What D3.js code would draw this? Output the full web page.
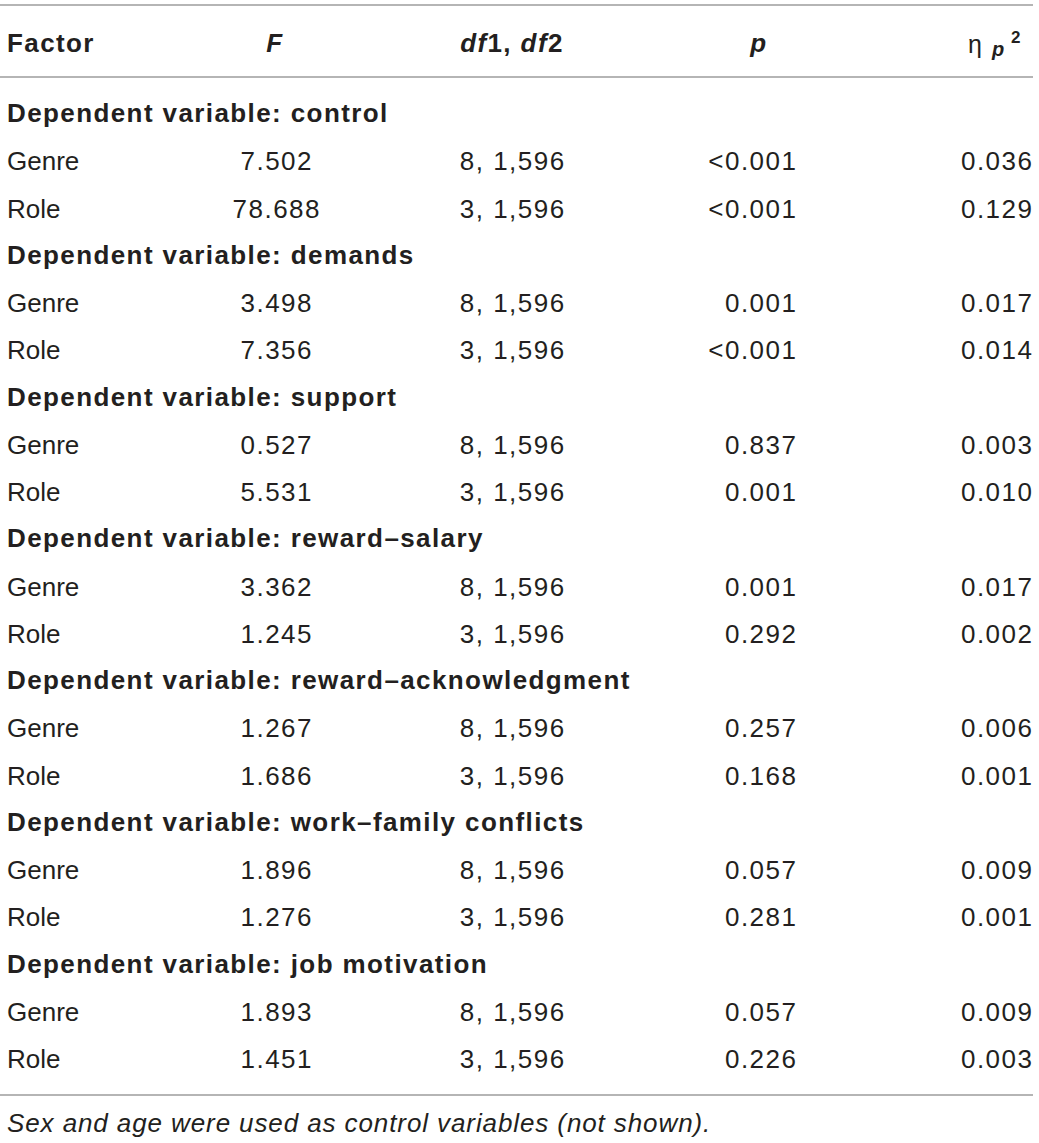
<!DOCTYPE html>
<html>
<head>
<meta charset="utf-8">
<script src="https://cdn.jsdelivr.net/npm/d3@7"></script>
<style>
  html, body { margin: 0; padding: 0; background: #fff; }
  svg { display: block; }
  text { font-family: "Liberation Sans", Arial, "Helvetica Neue", sans-serif; fill: #231f20; }
  .bold { font-weight: bold; letter-spacing: 1.4px; }
  .num { letter-spacing: 1.5px; }
</style>
</head>
<body>
<svg id="chart" width="1039" height="1143"></svg>
<script>
// ---- data ----
const sections = ["control", "demands", "support", "reward–salary", "reward–acknowledgment", "work–family conflicts", "job motivation"];
const factors = ["Genre", "Role"];
const df1Values = [8, 3];
const df2Value = 1596;
const fValues = [
  [7.502, 78.688],
  [3.498, 7.356],
  [0.527, 5.531],
  [3.362, 1.245],
  [1.267, 1.686],
  [1.896, 1.276],
  [1.893, 1.451]
];
const pValues = [
  ["<0.001", "<0.001"],
  ["0.001", "<0.001"],
  ["0.837", "0.001"],
  ["0.001", "0.292"],
  ["0.257", "0.168"],
  ["0.057", "0.281"],
  ["0.057", "0.226"]
];
const etaValues = [
  [0.036, 0.129],
  [0.017, 0.014],
  [0.003, 0.010],
  [0.017, 0.002],
  [0.006, 0.001],
  [0.009, 0.001],
  [0.009, 0.003]
];
const footnote = "Sex and age were used as control variables (not shown).";
const sectionPrefix = "Dependent variable: ";

// ---- build rows ----
const rows = [];
sections.forEach((s, si) => {
  rows.push({ type: "section", label: sectionPrefix + s });
  factors.forEach((f, fi) => {
    rows.push({
      type: "data", label: f,
      F: fValues[si][fi],
      df: [df1Values[fi], df2Value],
      p: pValues[si][fi],
      eta: etaValues[si][fi]
    });
  });
});

const svg = d3.select("#chart");
const fmt3 = d3.format(".3f");
const fmtComma = d3.format(",");

// column anchors
const colX = d3.scaleOrdinal()
  .domain(["label", "F", "df", "p", "eta"])
  .range([7, 276, 512, 796, 1032]);
const colAnchor = { label: "start", F: "middle", df: "middle", p: "end", eta: "end" };

// row baselines
const y = d3.scaleLinear().domain([0, rows.length - 1]).range([123, 1068]);

// rules
const rules = [5, 77, 1095];
svg.selectAll("line.rule").data(rules).join("line")
  .attr("class", "rule")
  .attr("x1", 0).attr("x2", 1033)
  .attr("y1", d => d).attr("y2", d => d)
  .attr("stroke", "#9d9d9d").attr("stroke-width", 1.6);

// header
const hy = 52;
const hdr = svg.append("g");
hdr.append("text").attr("class", "bold").attr("x", colX("label")).attr("y", hy)
  .attr("font-size", 26).text("Factor");
hdr.append("text").attr("class", "bold").attr("x", colX("F") - 1).attr("y", hy)
  .attr("font-size", 26).attr("text-anchor", "middle").attr("font-style", "italic").text("F");
const dfh = hdr.append("text").attr("class", "bold").attr("x", colX("df")).attr("y", hy)
  .attr("font-size", 26).attr("text-anchor", "middle");
dfh.append("tspan").attr("font-style", "italic").text("df");
dfh.append("tspan").text("1, ");
dfh.append("tspan").attr("font-style", "italic").text("df");
dfh.append("tspan").text("2");
hdr.append("text").attr("class", "bold").attr("x", 759).attr("y", hy)
  .attr("font-size", 26).attr("text-anchor", "middle").attr("font-style", "italic").text("p");
// eta_p^2
hdr.append("text").attr("x", 968).attr("y", 53).attr("font-size", 25).text("η");
hdr.append("text").attr("x", 992).attr("y", 56).attr("font-size", 20)
  .attr("font-weight", "bold").attr("font-style", "italic").text("p");
hdr.append("text").attr("x", 1011).attr("y", 43).attr("font-size", 17)
  .attr("font-weight", "bold").text("2");

// body rows
const g = svg.append("g");
rows.forEach((r, i) => {
  const yy = y(i);
  if (r.type === "section") {
    g.append("text").attr("class", "bold").attr("x", colX("label")).attr("y", yy - 1)
      .attr("font-size", 26).text(r.label);
  } else {
    g.append("text").attr("x", colX("label")).attr("y", yy).attr("font-size", 26).text(r.label);
    const cells = [
      ["F", fmt3(r.F)],
      ["df", r.df[0] + ", " + fmtComma(r.df[1])],
      ["p", r.p],
      ["eta", fmt3(r.eta)]
    ];
    cells.forEach(([k, v]) => {
      const anchor = colAnchor[k];
      const shift = anchor === "end" ? 1.5 : (anchor === "middle" ? 0.75 : 0);
      g.append("text").attr("class", "num")
        .attr("x", colX(k) + shift).attr("y", yy)
        .attr("font-size", 26).attr("text-anchor", anchor).text(v);
    });
  }
});

// footnote
svg.append("text").attr("x", 7).attr("y", 1132).attr("font-size", 26)
  .attr("font-style", "italic").attr("letter-spacing", "0.9px").text(footnote);
</script>
</body>
</html>
